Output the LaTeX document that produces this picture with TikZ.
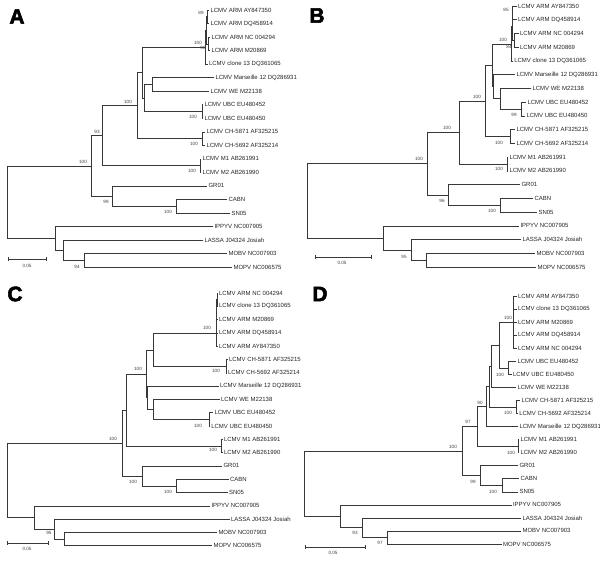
\documentclass[tikz,border=0pt]{standalone}
\usepackage{fontspec}
\setmainfont{Liberation Sans}
\newfontfamily\heavyfont[FakeBold=2.5]{Liberation Sans Bold}
\usetikzlibrary{calc}
\tikzset{
 br/.style={line width=0.55pt, draw=black!78},
 lf/.style={anchor=west, inner xsep=1.3pt, inner ysep=0pt, font=\fontsize{6}{6}\selectfont, text=black!85},
 bs/.style={inner sep=0pt, font=\fontsize{4.6}{4.6}\selectfont, text=black!75},
 plab/.style={inner sep=0pt, font=\heavyfont\fontsize{21}{21}\selectfont},
}
\newcommand\leafpt[4]{\coordinate (#1) at (#2,#3); \node[lf] (#1t) at (#1) {#4};}
\newcommand\tnode[4]{\path let \p1=($(#3)!.5!(#4)$) in coordinate (#1) at (#2pt,\y1); \draw[br] (#1) |- (#3) (#1) |- (#4);}
\newcommand\snode[7]{\path let \p1=($(#3)!.5!(#7)$) in coordinate (#1) at (#2pt,\y1); \draw[br] (#1) |- (#3) (#1) |- (#4) (#1) |- (#5) (#1) |- (#6) (#1) |- (#7);}
\newcommand\scalebar[6]{\coordinate (#1a) at (#2,#4); \coordinate (#1b) at (#3,#4);
 \draw[br] (#1a) -- (#1b) ([yshift=2pt]#1a) -- ([yshift=-2pt]#1a) ([yshift=2pt]#1b) -- ([yshift=-2pt]#1b);
 \node[bs] (#1l) at (#5,#6) {0.05};}
\begin{document}
\begin{tikzpicture}[x=1pt,y=-1pt]
\useasboundingbox (0,0) rectangle (600,561);
\fill[white] (0,0) rectangle (600,561);
% ================= A =================
\node[plab] (pA) at (17,16.5) {A};
\leafpt{a1}{209}{10.0}{LCMV ARM AY847350}
\leafpt{a2}{209}{23.5}{LCMV ARM DQ458914}
\leafpt{a3}{210}{37.1}{LCMV ARM NC 004294}
\leafpt{a4}{210}{50.6}{LCMV ARM M20869}
\leafpt{a5}{207.5}{64.1}{LCMV clone 13 DQ361065}
\leafpt{a6}{214}{77.7}{LCMV Marseille 12 DQ286931}
\leafpt{a7}{209}{91.2}{LCMV WE M22138}
\leafpt{a8}{203}{104.7}{LCMV UBC EU480452}
\leafpt{a9}{203}{118.2}{LCMV UBC EU480450}
\leafpt{a10}{205}{131.8}{LCMV CH-5871 AF325215}
\leafpt{a11}{205}{145.3}{LCMV CH-5692 AF325214}
\leafpt{a12}{201}{158.8}{LCMV M1 AB261991}
\leafpt{a13}{201}{172.4}{LCMV M2 AB261990}
\leafpt{a14}{207}{185.9}{GR01}
\leafpt{a15}{227}{199.4}{CABN}
\leafpt{a16}{230}{213.0}{SN05}
\leafpt{a17}{213}{226.5}{IPPYV NC007905}
\leafpt{a18}{203}{240.0}{LASSA J04324 Josiah}
\leafpt{a19}{227}{253.5}{MOBV NC007903}
\leafpt{a20}{232}{267.1}{MOPV NC006575}
\tnode{aA12}{207.5}{a1}{a2}
\tnode{aA34}{208.5}{a3}{a4}
\tnode{aA14}{206.5}{aA12}{aA34}
\tnode{aARM}{205.5}{aA14}{a5}
\tnode{aMW}{152}{a6}{a7}
\tnode{aUBC}{202}{a8}{a9}
\tnode{aN7}{144.3}{aMW}{aUBC}
\tnode{aN6}{142.3}{aARM}{aN7}
\tnode{aCH}{202.5}{a10}{a11}
\tnode{aN5}{137}{aN6}{aCH}
\tnode{aM}{200}{a12}{a13}
\tnode{aN2}{102}{aN5}{aM}
\tnode{aCS}{176}{a15}{a16}
\tnode{aN3}{112.5}{a14}{aCS}
\tnode{aN1}{91.5}{aN2}{aN3}
\tnode{aO3}{84}{a19}{a20}
\tnode{aO2}{63}{a18}{aO3}
\tnode{aO1}{55}{a17}{aO2}
\tnode{aR}{7}{aN1}{aO1}
\node[bs] (abs1) at (201,13) {89};
\node[bs] (abs2) at (198,43) {100};
\node[bs] (abs3) at (203,48) {98};
\node[bs] (abs4) at (128,102) {100};
\node[bs] (abs5) at (193,117) {100};
\node[bs] (abs6) at (194,144) {100};
\node[bs] (abs7) at (192,171) {100};
\node[bs] (abs8) at (97,132) {93};
\node[bs] (abs9) at (83,162) {100};
\node[bs] (abs10) at (106,202) {99};
\node[bs] (abs11) at (168,212) {100};
\node[bs] (abs12) at (77,267) {94};
\scalebar{asb}{8}{46}{259}{27}{266}
% ================= B =================
\node[plab] (pB) at (317,15.5) {B};
\leafpt{b1}{516.5}{6.0}{LCMV ARM AY847350}
\leafpt{b2}{516.5}{19.7}{LCMV ARM DQ458914}
\leafpt{b3}{518.5}{33.5}{LCMV ARM NC 004294}
\leafpt{b4}{518.5}{47.2}{LCMV ARM M20869}
\leafpt{b5}{512.8}{61.0}{LCMV clone 13 DQ361065}
\leafpt{b6}{515}{74.7}{LCMV Marseille 12 DQ286931}
\leafpt{b7}{531}{88.4}{LCMV WE M22138}
\leafpt{b8}{526}{102.2}{LCMV UBC EU480452}
\leafpt{b9}{525}{115.9}{LCMV UBC EU480450}
\leafpt{b10}{515}{129.7}{LCMV CH-5871 AF325215}
\leafpt{b11}{515}{143.4}{LCMV CH-5692 AF325214}
\leafpt{b12}{508}{157.1}{LCMV M1 AB261991}
\leafpt{b13}{508}{170.9}{LCMV M2 AB261990}
\leafpt{b14}{520}{184.6}{GR01}
\leafpt{b15}{533}{198.4}{CABN}
\leafpt{b16}{537}{212.1}{SN05}
\leafpt{b17}{519}{225.8}{IPPYV NC007905}
\leafpt{b18}{521}{239.6}{LASSA J04324 Josiah}
\leafpt{b19}{535}{253.3}{MOBV NC007903}
\leafpt{b20}{536}{267.1}{MOPV NC006575}
\tnode{bA12}{512.6}{b1}{b2}
\tnode{bA34}{514.5}{b3}{b4}
\tnode{bA14}{511.8}{bA12}{bA34}
\tnode{bARM}{511}{bA14}{b5}
\tnode{bUBC}{521}{b8}{b9}
\tnode{bWU}{500}{b7}{bUBC}
\tnode{bMWU}{493.5}{b6}{bWU}
\tnode{bN6}{492}{bARM}{bMWU}
\tnode{bCH}{510.5}{b10}{b11}
\tnode{bN5}{485}{bN6}{bCH}
\tnode{bM}{507}{b12}{b13}
\tnode{bN2}{459}{bN5}{bM}
\tnode{bCS}{500}{b15}{b16}
\tnode{bN3}{448}{b14}{bCS}
\tnode{bN1}{427}{bN2}{bN3}
\tnode{bO3}{426}{b19}{b20}
\tnode{bO2}{411}{b18}{bO3}
\tnode{bO1}{383}{b17}{bO2}
\tnode{bR}{307}{bN1}{bO1}
\node[bs] (bbs1) at (506,10) {85};
\node[bs] (bbs2) at (503,40) {100};
\node[bs] (bbs3) at (509,47) {84};
\node[bs] (bbs4) at (477,97) {100};
\node[bs] (bbs5) at (514,115) {99};
\node[bs] (bbs6) at (499,143) {100};
\node[bs] (bbs7) at (447,128) {100};
\node[bs] (bbs8) at (419,159) {100};
\node[bs] (bbs9) at (499,169) {100};
\node[bs] (bbs10) at (442,201) {96};
\node[bs] (bbs11) at (492,211) {100};
\node[bs] (bbs12) at (404,257) {95};
\scalebar{bsb}{315}{371}{257}{342}{263}
% ================= C =================
\node[plab] (pC) at (15,294) {C};
\leafpt{c1}{217.5}{293.0}{LCMV ARM NC 004294}
\leafpt{c2}{217.5}{306.3}{LCMV clone 13 DQ361065}
\leafpt{c3}{217.5}{319.6}{LCMV ARM M20869}
\leafpt{c4}{217.5}{332.9}{LCMV ARM DQ458914}
\leafpt{c5}{217.5}{346.2}{LCMV ARM AY847350}
\leafpt{c6}{227.5}{359.5}{LCMV CH-5871 AF325215}
\leafpt{c7}{226.5}{372.8}{LCMV CH-5692 AF325214}
\leafpt{c8}{218.5}{386.1}{LCMV Marseille 12 DQ286931}
\leafpt{c9}{219.5}{399.4}{LCMV WE M22138}
\leafpt{c10}{213}{412.7}{LCMV UBC EU480452}
\leafpt{c11}{209.8}{426.0}{LCMV UBC EU480450}
\leafpt{c12}{222.5}{439.3}{LCMV M1 AB261991}
\leafpt{c13}{222.5}{452.6}{LCMV M2 AB261990}
\leafpt{c14}{222}{465.9}{GR01}
\leafpt{c15}{228.5}{479.2}{CABN}
\leafpt{c16}{227.5}{492.5}{SN05}
\leafpt{c17}{210}{505.8}{IPPYV NC007905}
\leafpt{c18}{229.5}{519.1}{LASSA J04324 Josiah}
\leafpt{c19}{217}{532.4}{MOBV NC007903}
\leafpt{c20}{212}{545.7}{MOPV NC006575}
\tnode{cA12}{216.8}{c1}{c2}
\tnode{cA13}{216.5}{cA12}{c3}
\tnode{cA14}{216.2}{cA13}{c4}
\tnode{cARM}{216}{cA14}{c5}
\tnode{cCH}{226}{c6}{c7}
\tnode{cN6}{153}{cARM}{cCH}
\tnode{cUBC}{209}{c10}{c11}
\tnode{cWU}{153.5}{c9}{cUBC}
\tnode{cMWU}{147.6}{c8}{cWU}
\tnode{cN5}{146.7}{cN6}{cMWU}
\tnode{cM}{221.5}{c12}{c13}
\tnode{cN2}{126}{cN5}{cM}
\tnode{cCS}{176}{c15}{c16}
\tnode{cN3}{142}{c14}{cCS}
\tnode{cN1}{122.5}{cN2}{cN3}
\tnode{cO3}{64}{c19}{c20}
\tnode{cO2}{54}{c18}{cO3}
\tnode{cO1}{34}{c17}{cO2}
\tnode{cR}{7}{cN1}{cO1}
\node[bs] (cbs1) at (207,328) {100};
\node[bs] (cbs2) at (216,371) {100};
\node[bs] (cbs3) at (198,426) {100};
\node[bs] (cbs4) at (138,369) {100};
\node[bs] (cbs5) at (113,439) {100};
\node[bs] (cbs6) at (213,450) {100};
\node[bs] (cbs7) at (133,482) {100};
\node[bs] (cbs8) at (168,492) {100};
\node[bs] (cbs9) at (49,533) {95};
\scalebar{csb}{7}{48}{543}{27}{549}
% ================= D =================
\node[plab] (pD) at (320,294) {D};
\leafpt{d1}{516.5}{296.0}{LCMV ARM AY847350}
\leafpt{d2}{516.5}{309.1}{LCMV clone 13 DQ361065}
\leafpt{d3}{516.5}{322.1}{LCMV ARM M20869}
\leafpt{d4}{516.5}{335.2}{LCMV ARM DQ458914}
\leafpt{d5}{516.5}{348.2}{LCMV ARM NC 004294}
\leafpt{d6}{516}{361.3}{LCMV UBC EU480452}
\leafpt{d7}{511.5}{374.3}{LCMV UBC EU480450}
\leafpt{d8}{516}{387.4}{LCMV WE M22138}
\leafpt{d9}{520}{400.4}{LCMV CH-5871 AF325215}
\leafpt{d10}{517.8}{413.5}{LCMV CH-5692 AF325214}
\leafpt{d11}{518}{426.5}{LCMV Marseille 12 DQ286931}
\leafpt{d12}{519}{439.6}{LCMV M1 AB261991}
\leafpt{d13}{519}{452.6}{LCMV M2 AB261990}
\leafpt{d14}{518}{465.7}{GR01}
\leafpt{d15}{519}{478.7}{CABN}
\leafpt{d16}{518}{491.8}{SN05}
\leafpt{d17}{511.5}{504.8}{IPPYV NC007905}
\leafpt{d18}{521}{517.9}{LASSA J04324 Josiah}
\leafpt{d19}{521}{530.9}{MOBV NC007903}
\leafpt{d20}{501.5}{544.0}{MOPV NC006575}
\snode{dARM}{513}{d1}{d2}{d3}{d4}{d5}
\tnode{dUBC}{508}{d6}{d7}
\tnode{dAU}{499}{dARM}{dUBC}
\tnode{dN6}{491}{dAU}{d8}
\tnode{dCH}{516.5}{d9}{d10}
\tnode{dN5}{489}{dN6}{dCH}
\tnode{dN4}{486.5}{dN5}{d11}
\tnode{dM}{518}{d12}{d13}
\tnode{dN2}{477}{dN4}{dM}
\tnode{dCS}{502}{d15}{d16}
\tnode{dN3}{480}{d14}{dCS}
\tnode{dN1}{462}{dN2}{dN3}
\tnode{dO3}{387}{d19}{d20}
\tnode{dO2}{362}{d18}{dO3}
\tnode{dO1}{340}{d17}{dO2}
\tnode{dR}{304}{dN1}{dO1}
\node[bs] (dbs1) at (508,318) {100};
\node[bs] (dbs2) at (500,375) {100};
\node[bs] (dbs3) at (480,403) {90};
\node[bs] (dbs4) at (508,413) {100};
\node[bs] (dbs5) at (468,422) {97};
\node[bs] (dbs6) at (511,453) {100};
\node[bs] (dbs7) at (453,447) {100};
\node[bs] (dbs8) at (473,482) {99};
\node[bs] (dbs9) at (493,492) {100};
\node[bs] (dbs10) at (355,533) {93};
\node[bs] (dbs11) at (380,543) {97};
\scalebar{dsb}{305}{365}{547}{333}{553}
\end{tikzpicture}
\end{document}
